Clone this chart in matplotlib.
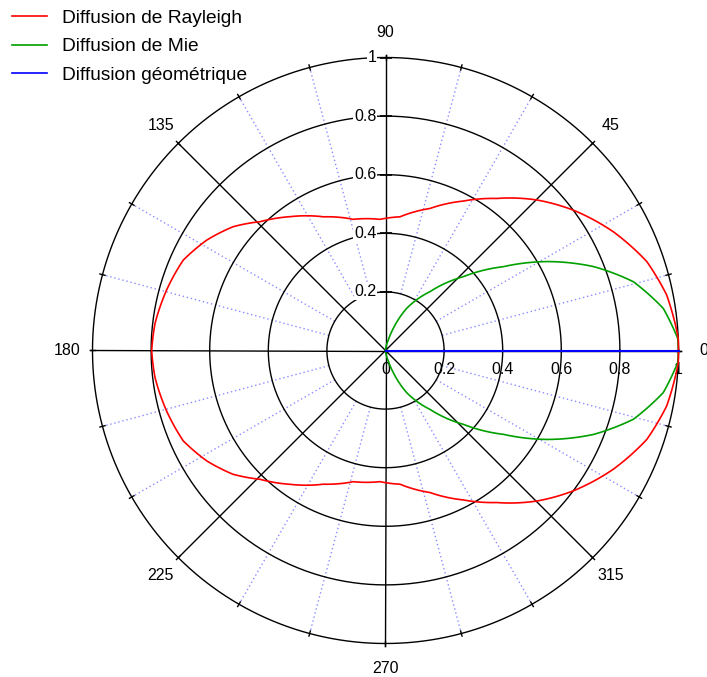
import numpy as np
import matplotlib
matplotlib.use("Agg")
import matplotlib.pyplot as plt
from matplotlib.lines import Line2D

plt.rcParams['font.family'] = ['Liberation Sans', 'DejaVu Sans']

# ---- data (upper half, degrees / relative intensity); curves are symmetric about 0 deg
rayleigh_deg = [0, 2.4, 11.2, 18.8, 27.5, 36.8, 44.9, 53.8, 62.5, 72.6, 83.8, 92.4,
                103.8, 114.9, 125.5, 134.3, 140.9, 148.3, 155.9, 164.5, 173.3, 180]
rayleigh_r = [1.0, 1.0, 0.978, 0.942, 0.877, 0.800, 0.728, 0.643, 0.575, 0.508, 0.459, 0.448,
              0.461, 0.503, 0.561, 0.614, 0.670, 0.717, 0.756, 0.775, 0.792, 0.798]
mie_deg = [0, 2.4, 8.6, 15.5, 22.0, 28.9, 35.4, 43.5, 52.9, 63.3, 70.6, 75.0, 85.0]
mie_r = [1.0, 0.998, 0.959, 0.878, 0.765, 0.628, 0.494, 0.366, 0.252, 0.161, 0.080, 0.037, 0.0]
geo_deg = [0, 0]
geo_r = [0, 1]

labels = ["Diffusion de Rayleigh", "Diffusion de Mie", "Diffusion géométrique"]
colors = ["#ff0000", "#00a000", "#0000ff"]
angle_ticks = [0, 45, 90, 135, 180, 225, 270, 315]
radial_ticks = [0.2, 0.4, 0.6, 0.8, 1.0]
radial_tick_labels = ["0.2", "0.4", "0.6", "0.8", "1"]
axis_labels = ["0", "0.2", "0.4", "0.6", "0.8", "1"]
axis_label_r = [0, 0.2, 0.4, 0.6, 0.8, 1.0]


def full(deg, r):
    d = np.asarray(deg, float)
    rr = np.asarray(r, float)
    d_full = np.concatenate([d, 360 - d[::-1]])
    r_full = np.concatenate([rr, rr[::-1]])
    return np.deg2rad(d_full), r_full


def smooth_polar(line, steps=40):
    # draw segments following the polar coordinates instead of straight chords
    line.get_path()._interpolation_steps = steps
    return line


W, H = 707, 677
fig = plt.figure(figsize=(W / 100, H / 100), dpi=100)
cx, cy, R = 385.5, 350.5, 293.0
ax = fig.add_axes([(cx - R) / W, (H - cy - R) / H, 2 * R / W, 2 * R / H], projection='polar')
ax.set_ylim(0, 1)
ax.grid(False)
ax.set_xticks([])
ax.set_yticks([])
ax.spines['polar'].set_visible(False)
ax.patch.set_visible(False)

tt = np.linspace(0, 2 * np.pi, 721)
# dotted minor radial lines every 15 deg
for a in range(0, 360, 15):
    if a % 45 != 0:
        ax.plot([np.deg2rad(a)] * 2, [0.2, 1.0], color='#8c8cff', lw=1.0,
                ls=(0, (1, 2)), clip_on=False, zorder=1)
# circles
for rr in radial_ticks:
    ax.plot(tt, np.full_like(tt, rr), color='black', lw=1.0, clip_on=False, zorder=2)
# major radial lines
for a in angle_ticks:
    ext = 1.01 if a % 90 == 0 else 1.0
    ax.plot([np.deg2rad(a)] * 2, [0, ext], color='black', lw=1.0, clip_on=False, zorder=2)
# small ticks on outer circle
for a in range(0, 360, 15):
    ax.plot([np.deg2rad(a)] * 2, [0.991, 1.009], color='black', lw=1.0, clip_on=False, zorder=2)
# ticks on 90 deg axis
ax.plot([np.pi / 2] * len(radial_ticks), radial_ticks, ls='none', marker='_',
        ms=9, mew=1.2, color='black', clip_on=False, zorder=2)

# curves
th, r = full(rayleigh_deg, rayleigh_r)
smooth_polar(ax.plot(th, r, color=colors[0], lw=1.2, clip_on=False, zorder=5)[0])
th, r = full(mie_deg, mie_r)
smooth_polar(ax.plot(th, r, color=colors[1], lw=1.2, clip_on=False, zorder=4)[0])
ax.plot(np.deg2rad(geo_deg), geo_r, color=colors[2], lw=1.5, clip_on=False, zorder=6)

# labels
for a in angle_ticks:
    ax.text(np.deg2rad(a), 1.085, str(a), ha='center', va='center', fontsize=11.5)
for rr, lab in zip(radial_ticks, radial_tick_labels):
    ax.annotate(lab, (np.pi / 2, rr), xytext=(-9, 0), textcoords='offset pixels',
                ha='right', va='center', fontsize=11.5, annotation_clip=False,
                bbox=dict(boxstyle='square,pad=0.05', fc='white', ec='none'))
for rr, lab in zip(axis_label_r, axis_labels):
    ax.annotate(lab, (0, rr), xytext=(0, -19), textcoords='offset pixels',
                ha='center', va='center', fontsize=11.5, annotation_clip=False)

handles = [Line2D([], [], color=c, lw=1.2) for c in colors]
fig.legend(handles, labels, loc='upper left', bbox_to_anchor=(12 / W, 1 - 9.5 / H),
           frameon=False, fontsize=13.8, handlelength=1.83, handletextpad=0.78,
           labelspacing=0.57, borderaxespad=0.0, borderpad=0.0)

fig.savefig('out.png', dpi=100)
